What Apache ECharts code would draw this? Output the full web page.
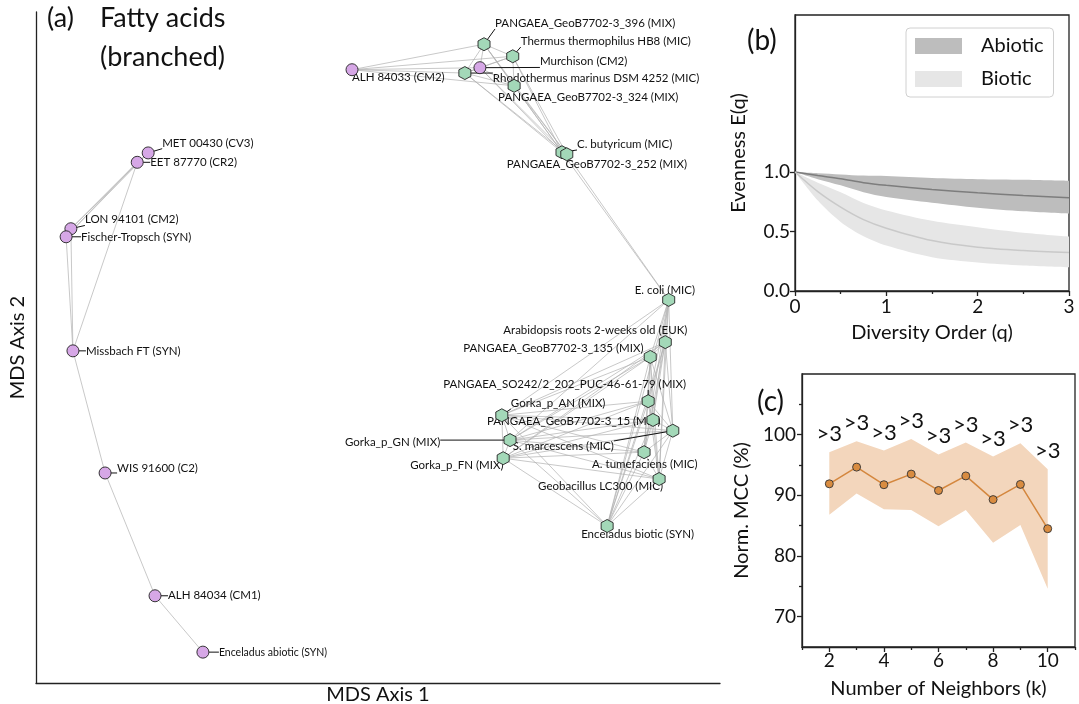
<!DOCTYPE html>
<html>
<head>
<meta charset="utf-8">
<script src="https://cdn.jsdelivr.net/npm/echarts@6/dist/echarts.min.js"></script>
<style>
  html, body { margin: 0; padding: 0; background: #fff; }
  #chart { width: 1079px; height: 704px; }
</style>
</head>
<body>
<div id="chart"></div>
<script>
const FONT = "Lato"

// (a) MDS embedding, arbitrary units (0-100 on both axes)
const abioticIds = ["A84033", "MUR", "MET", "EET", "LON", "FT", "MFT", "WIS", "A84034", "ENA"]
const abioticNames = ["ALH 84033 (CM2)", "Murchison (CM2)", "MET 00430 (CV3)", "EET 87770 (CR2)", "LON 94101 (CM2)",
  "Fischer-Tropsch (SYN)", "Missbach FT (SYN)", "WIS 91600 (C2)", "ALH 84034 (CM1)", "Enceladus abiotic (SYN)"]
const abioticX = [46.2, 64.9, 16.4, 14.8, 5.1, 4.4, 5.4, 10.1, 17.4, 24.4]
const abioticY = [91.4, 91.7, 79.0, 77.6, 67.7, 66.5, 49.5, 31.3, 13.0, 4.6]

const bioticIds = ["G396", "THE", "RHO", "G324", "CBU", "G252", "ECO", "ARA", "G135", "SO242",
  "GAN", "G15", "GGN", "SMA", "GFN", "ATU", "GEO", "ENB"]
const bioticNames = ["PANGAEA_GeoB7702-3_396 (MIX)", "Thermus thermophilus HB8 (MIC)", "Rhodothermus marinus DSM 4252 (MIC)",
  "PANGAEA_GeoB7702-3_324 (MIX)", "C. butyricum (MIC)", "PANGAEA_GeoB7702-3_252 (MIX)", "E. coli (MIC)",
  "Arabidopsis roots 2-weeks old (EUK)", "PANGAEA_GeoB7702-3_135 (MIX)", "PANGAEA_SO242/2_202_PUC-46-61-79 (MIX)",
  "Gorka_p_AN (MIX)", "PANGAEA_GeoB7702-3_15 (MIX)", "Gorka_p_GN (MIX)", "S. marcescens (MIC)", "Gorka_p_FN (MIX)",
  "A. tumefaciens (MIC)", "Geobacillus LC300 (MIC)", "Enceladus biotic (SYN)"]
const bioticX = [65.5, 69.7, 62.7, 69.9, 76.9, 77.6, 92.5, 92.0, 89.8, 89.5, 68.1, 90.2, 69.3, 93.1, 68.3, 88.9, 91.1, 83.5]
const bioticY = [95.2, 93.4, 90.9, 89.0, 79.1, 78.8, 57.1, 50.8, 48.6, 42.0, 39.9, 39.2, 36.2, 37.6, 33.5, 34.4, 30.4, 23.4]

// neighbour graph (each id -> ids it is linked to)
const neighbors = {
  ENA: "A84034", A84034: "WIS", WIS: "MFT", MFT: "FT LON EET",
  FT: "LON EET MET", LON: "EET MET", EET: "MET",
  A84033: "G396 THE RHO MUR G324",
  G396: "THE RHO MUR G324 G252 CBU", THE: "MUR RHO G324 CBU G252",
  RHO: "MUR G324 G252 CBU", MUR: "G324 G252 CBU", G324: "CBU G252",
  CBU: "G252 ECO", G252: "ECO",
  ECO: "ARA G135 SO242 G15 SMA ATU GEO ENB GAN GGN",
  ARA: "G135 SO242 G15 SMA ATU GEO ENB GAN GGN GFN",
  G135: "SO242 G15 SMA ATU GEO ENB GAN GGN GFN",
  SO242: "G15 SMA ATU GEO ENB GAN GGN GFN",
  G15: "SMA ATU GEO ENB GAN GGN GFN",
  SMA: "ATU GEO ENB GAN GGN GFN",
  ATU: "GEO ENB GAN GGN GFN",
  GEO: "ENB GAN GGN GFN",
  ENB: "GAN GGN GFN",
  GAN: "GGN GFN",
  GGN: "GFN"
}

// label placement (px offset of the label's left-middle from the point)
const abioticLabelOffset = [[0, 8], [60, -6], [14, -10], [13, 0], [14, -9], [15, 1], [13, 0], [12, -5], [13, 0], [16, 0]]
const abioticLabelSize = [11.5, 11.5, 11.5, 11.5, 11.5, 11.5, 11.5, 11.5, 11.5, 10.5]
const bioticLabelOffset = [[11, -21], [8, -15], [28, 5], [-16, 11], [15, -8], [-60, 10], [-34, -10], [-162, -12],
  [-187, -9], [-205, -17], [9, -12], [-166, 1], [-165, 2], [-160, 16], [-93, 7], [-52, 12], [-121, 7], [-26, 8]]

// (b) Evenness profiles
const qValues = [0, 0.25, 0.5, 0.75, 1, 1.5, 2, 2.5, 3]
const abioticMean = [1.0, 0.97, 0.944, 0.91, 0.888, 0.854, 0.826, 0.803, 0.784]
const abioticUpper = [1.0, 0.99, 0.98, 0.97, 0.966, 0.95, 0.94, 0.935, 0.927]
const abioticLower = [1.0, 0.94, 0.888, 0.83, 0.79, 0.742, 0.70, 0.67, 0.65]
const bioticMean = [1.0, 0.835, 0.705, 0.60, 0.528, 0.424, 0.368, 0.34, 0.323]
const bioticUpper = [1.0, 0.91, 0.83, 0.74, 0.677, 0.59, 0.536, 0.49, 0.458]
const bioticLower = [1.0, 0.76, 0.58, 0.46, 0.382, 0.284, 0.24, 0.215, 0.20]

// (c) Normalised MCC vs number of neighbours
const kValues = [2, 3, 4, 5, 6, 7, 8, 9, 10]
const mccMean = [91.9, 94.65, 91.75, 93.5, 90.8, 93.2, 89.3, 91.8, 84.5]
const mccUpper = [97.1, 98.9, 97.4, 99.3, 96.75, 98.7, 96.4, 98.6, 94.3]
const mccLower = [86.8, 90.3, 87.7, 87.6, 84.9, 87.6, 82.2, 85.1, 74.6]
const sigLabels = [">3", ">3", ">3", ">3", ">3", ">3", ">3", ">3", ">3"]

const HEXAGON = "path://M0,-10L8.66,-5L8.66,5L0,10L-8.66,5L-8.66,-5Z"

const pos = {}
abioticIds.forEach((id, i) => { pos[id] = [abioticX[i], abioticY[i]] })
bioticIds.forEach((id, i) => { pos[id] = [bioticX[i], bioticY[i]] })

const edges = []
Object.keys(neighbors).forEach((a) => {
  neighbors[a].split(" ").forEach((b) => edges.push({ coords: [pos[a], pos[b]] }))
})

const measureCtx = document.createElement("canvas").getContext("2d")
function textWidth(str, size) {
  measureCtx.font = size + "px " + FONT
  return measureCtx.measureText(str).width
}

function labelRenderer(names, offsets, sizes) {
  return (params, api) => {
    const i = params.dataIndex
    const p = api.coord([api.value(0), api.value(1)])
    const fs = sizes ? sizes[i] : 11.5
    const tx = p[0] + offsets[i][0]
    const ty = p[1] + offsets[i][1]
    const w = textWidth(names[i], fs)
    const nx = Math.min(Math.max(p[0], tx), tx + w)
    const ny = Math.min(Math.max(p[1], ty - fs / 2), ty + fs / 2)
    const children = []
    if (Math.hypot(nx - p[0], ny - p[1]) > 8) {
      children.push({ type: "line", shape: { x1: p[0], y1: p[1], x2: nx, y2: ny }, style: { stroke: "#111", lineWidth: 1 } })
    }
    children.push({
      type: "text",
      style: { x: tx, y: ty, text: names[i], fill: "#111", fontSize: fs, fontFamily: FONT, align: "left", verticalAlign: "middle" }
    })
    return { type: "group", children }
  }
}

const pairs = (xs, ys) => xs.map((x, i) => [x, ys[i]])
// band rows are [value, x] so that the stack runs along the value dimension
const bandRows = (xs, ys) => xs.map((x, i) => [ys[i], x])
const diff = (up, lo) => up.map((u, i) => u - lo[i])

const chart = echarts.init(document.getElementById("chart"))

const axisName = { fontFamily: FONT, fontSize: 20, color: "#111" }
const tickLabel = { fontFamily: FONT, fontSize: 19, color: "#111" }
const blackLine = { color: "#222", width: 1.3 }

function band(stack, xAxisIndex, yAxisIndex, xs, lower, upper, color, name, smooth) {
  return [
    {
      type: "line", xAxisIndex, yAxisIndex, stack, symbol: "none", smooth, silent: true,
      encode: { x: 1, y: 0 }, lineStyle: { opacity: 0 }, data: bandRows(xs, lower)
    },
    {
      type: "line", name, xAxisIndex, yAxisIndex, stack, symbol: "none", smooth, silent: true,
      encode: { x: 1, y: 0 }, color, lineStyle: { opacity: 0 }, areaStyle: { color, opacity: 1 },
      data: bandRows(xs, diff(upper, lower))
    }
  ]
}

chart.setOption({
  animation: false,
  textStyle: { fontFamily: FONT },
  grid: [
    { left: 36, top: 12, width: 684, height: 671, outerBoundsMode: "none" },
    { left: 795, top: 15, width: 274, height: 276, show: true, borderColor: "#222", borderWidth: 1.3, outerBoundsMode: "none" },
    { left: 802, top: 374, width: 273, height: 273, show: true, borderColor: "#222", borderWidth: 1.3, outerBoundsMode: "none" }
  ],
  xAxis: [
    {
      gridIndex: 0, type: "value", min: 0, max: 100,
      axisLine: { lineStyle: blackLine }, axisTick: { show: false }, axisLabel: { show: false }, splitLine: { show: false },
      name: "MDS Axis 1", nameLocation: "middle", nameGap: 2, nameTextStyle: axisName
    },
    {
      gridIndex: 1, type: "value", min: 0, max: 3, interval: 1, position: "bottom",
      axisLine: { lineStyle: blackLine }, axisTick: { length: 5, lineStyle: blackLine },
      axisLabel: { ...tickLabel, margin: 6 }, splitLine: { show: false },
      name: "Diversity Order (q)", nameLocation: "middle", nameGap: 32, nameTextStyle: axisName
    },
    {
      gridIndex: 1, type: "value", min: 0, max: 3, position: "bottom",
      axisLine: { show: false }, axisLabel: { show: false }, splitLine: { show: false },
      axisTick: { length: 3, lineStyle: blackLine, customValues: [0.5, 1.5, 2.5] }
    },
    {
      gridIndex: 2, type: "value", min: 1, max: 11, position: "bottom",
      axisLine: { lineStyle: blackLine },
      axisTick: { length: 5, lineStyle: blackLine, customValues: kValues.filter((k) => k % 2 === 0) },
      axisLabel: { ...tickLabel, margin: 4, customValues: kValues.filter((k) => k % 2 === 0) },
      splitLine: { show: false },
      name: "Number of Neighbors (k)", nameLocation: "middle", nameGap: 32, nameTextStyle: axisName
    },
    {
      gridIndex: 2, type: "value", min: 1, max: 11, position: "bottom",
      axisLine: { show: false }, axisLabel: { show: false }, splitLine: { show: false },
      axisTick: { length: 3, lineStyle: blackLine, customValues: [1, 3, 5, 7, 9, 11] }
    }
  ],
  yAxis: [
    {
      gridIndex: 0, type: "value", min: 0, max: 100,
      axisLine: { lineStyle: blackLine }, axisTick: { show: false }, axisLabel: { show: false }, splitLine: { show: false },
      name: "MDS Axis 2", nameLocation: "middle", nameGap: 8, nameTextStyle: axisName
    },
    {
      gridIndex: 1, type: "value", min: 0, max: 2.32, position: "left",
      axisLine: { lineStyle: blackLine },
      axisTick: { length: 5, lineStyle: blackLine, customValues: [0, 0.5, 1] },
      axisLabel: { ...tickLabel, margin: 5, customValues: [0, 0.5, 1], formatter: (v) => v.toFixed(1) },
      splitLine: { show: false },
      name: "Evenness E(q)", nameLocation: "middle", nameGap: 46, nameTextStyle: axisName
    },
    {
      gridIndex: 2, type: "value", min: 65, max: 110, position: "left",
      axisLine: { lineStyle: blackLine },
      axisTick: { length: 5, lineStyle: blackLine, customValues: [70, 80, 90, 100] },
      axisLabel: { ...tickLabel, margin: 6, customValues: [70, 80, 90, 100] },
      splitLine: { show: false },
      name: "Norm. MCC (%)", nameLocation: "middle", nameGap: 50, nameTextStyle: axisName
    },
    {
      gridIndex: 2, type: "value", min: 65, max: 110, position: "left",
      axisLine: { show: false }, axisLabel: { show: false }, splitLine: { show: false },
      axisTick: { length: 3, lineStyle: blackLine, customValues: [75, 85, 95, 105] }
    }
  ],
  legend: {
    left: 906, top: 28, orient: "vertical",
    padding: [8, 10, 8, 9], itemGap: 13, itemWidth: 47, itemHeight: 16,
    borderColor: "#d0d0d0", borderWidth: 1, borderRadius: 4, backgroundColor: "#fff",
    textStyle: { fontFamily: FONT, fontSize: 20, color: "#111", padding: [0, 0, 0, 14] },
    data: [
      { name: "Abiotic", icon: "rect", itemStyle: { color: "#bdbdbd" } },
      { name: "Biotic", icon: "rect", itemStyle: { color: "#e6e6e6" } }
    ],
    selectedMode: false
  },
  graphic: [
    { type: "text", left: 47, top: 5, style: { text: "(a)", fontFamily: FONT, fontSize: 27, fill: "#111" } },
    { type: "text", left: 100, top: 5, style: { text: "Fatty acids", fontFamily: FONT, fontSize: 27, fill: "#111" } },
    { type: "text", left: 100, top: 44, style: { text: "(branched)", fontFamily: FONT, fontSize: 27, fill: "#111" } },
    { type: "text", left: 747, top: 27, style: { text: "(b)", fontFamily: FONT, fontSize: 28, fill: "#111" } },
    { type: "text", left: 757, top: 388, style: { text: "(c)", fontFamily: FONT, fontSize: 28, fill: "#111" } }
  ],
  series: [
    // (a)
    {
      type: "lines", coordinateSystem: "cartesian2d", xAxisIndex: 0, yAxisIndex: 0, silent: true, z: 1,
      lineStyle: { color: "#b3b3b3", width: 0.8, opacity: 0.9 },
      data: edges
    },
    {
      type: "custom", xAxisIndex: 0, yAxisIndex: 0, silent: true, z: 2,
      renderItem: labelRenderer(abioticNames, abioticLabelOffset, abioticLabelSize),
      data: pairs(abioticX, abioticY)
    },
    {
      type: "custom", xAxisIndex: 0, yAxisIndex: 0, silent: true, z: 2,
      renderItem: labelRenderer(bioticNames, bioticLabelOffset, null),
      data: pairs(bioticX, bioticY)
    },
    {
      type: "scatter", name: "abiotic", xAxisIndex: 0, yAxisIndex: 0, z: 3,
      symbol: "circle", symbolSize: 12,
      itemStyle: { color: "#d6a7e6", borderColor: "#222", borderWidth: 0.9, opacity: 1 },
      data: pairs(abioticX, abioticY)
    },
    {
      type: "scatter", name: "biotic", xAxisIndex: 0, yAxisIndex: 0, z: 3,
      symbol: HEXAGON, symbolSize: [12, 13],
      itemStyle: { color: "#a3d8b8", borderColor: "#222", borderWidth: 0.9, opacity: 1 },
      data: pairs(bioticX, bioticY)
    },
    // (b)
    ...band("ab", 1, 1, qValues, abioticLower, abioticUpper, "#bdbdbd", "Abiotic", 0.3),
    ...band("bi", 1, 1, qValues, bioticLower, bioticUpper, "#e6e6e6", "Biotic", 0.3),
    {
      type: "line", xAxisIndex: 1, yAxisIndex: 1, symbol: "none", smooth: 0.3, silent: true, z: 3,
      lineStyle: { color: "#7d7d7d", width: 1.5 }, data: pairs(qValues, abioticMean)
    },
    {
      type: "line", xAxisIndex: 1, yAxisIndex: 1, symbol: "none", smooth: 0.3, silent: true, z: 3,
      lineStyle: { color: "#c9c9c9", width: 1.5 }, data: pairs(qValues, bioticMean)
    },
    // (c)
    ...band("mcc", 3, 2, kValues, mccLower, mccUpper, "#f3d6bc", "mccBand", false),
    {
      type: "scatter", xAxisIndex: 3, yAxisIndex: 2, symbolSize: 0, silent: true,
      itemStyle: { opacity: 1 },
      label: {
        show: true, position: "top", distance: 7, formatter: (p) => sigLabels[p.dataIndex],
        fontFamily: FONT, fontSize: 22, color: "#111"
      },
      data: pairs(kValues, mccUpper)
    },
    {
      type: "line", xAxisIndex: 3, yAxisIndex: 2, silent: true, z: 3,
      symbol: "circle", symbolSize: 8,
      lineStyle: { color: "#d4873e", width: 1.5 },
      itemStyle: { color: "#d98c40", borderColor: "#333", borderWidth: 0.9 },
      data: pairs(kValues, mccMean)
    }
  ]
})
</script>
</body>
</html>
